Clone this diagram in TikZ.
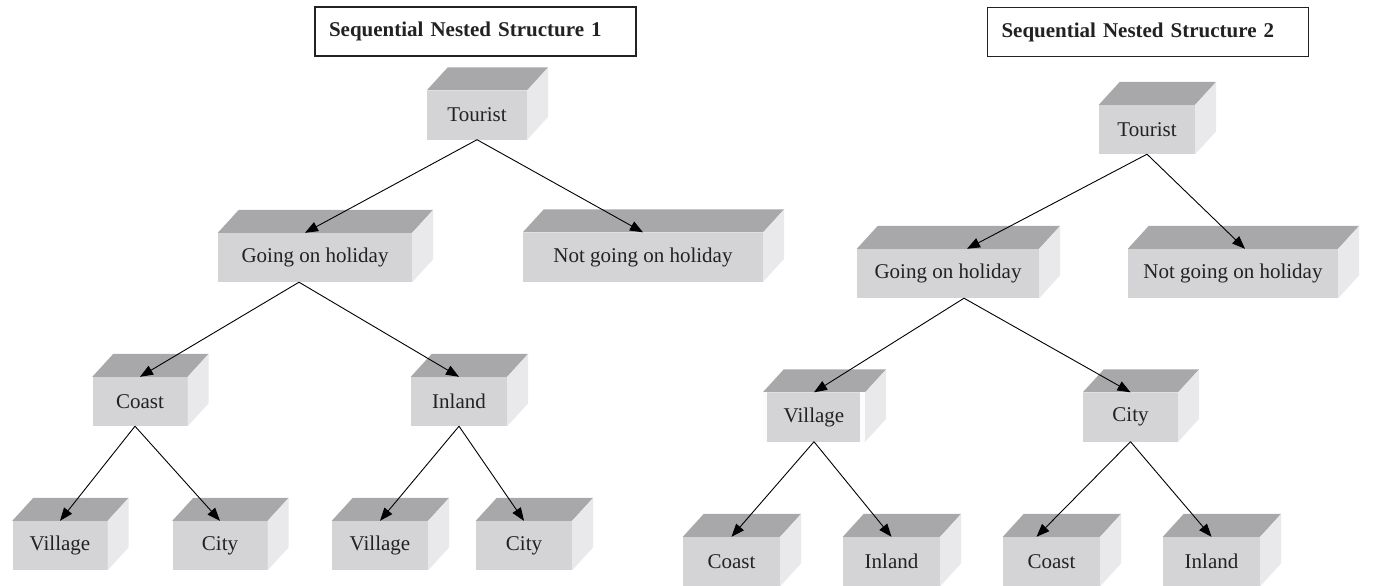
\documentclass[tikz,border=0pt]{standalone}
\usepackage{fontspec}
\setmainfont{Liberation Serif}
\usetikzlibrary{arrows.meta}

\definecolor{frontgray}{RGB}{212,212,214}
\definecolor{topgray}{RGB}{168,168,170}
\definecolor{sidegray}{RGB}{233,233,235}
\definecolor{inkgray}{RGB}{34,34,34}

\tikzset{
  block/.style={rectangle, fill=frontgray, minimum height=49pt, inner sep=0pt,
    text=inkgray, font=\fontsize{21}{25}\selectfont},
  titlebox/.style={rectangle, draw=inkgray, line width=1.2pt, fill=white,
    minimum height=49pt, inner xsep=14pt, inner ysep=0pt, text width=293pt,
    align=left, text=inkgray, font=\fontsize{21}{25}\selectfont\bfseries},
  link/.style={line width=0.9pt, -{Triangle[length=13pt,width=10pt]}}
}

\begin{document}
\begin{tikzpicture}[x=1pt, y=-1pt]
  \useasboundingbox[fill=white] (0,0) rectangle (1397,586);

  % titles
  \node[titlebox] (head1) at (475.5,31.5) {Sequential Nested Structure 1};
  \node[titlebox] (head2) at (1148,32) {Sequential Nested Structure 2};

  % structure 1
  \node[block, minimum width=100pt] (t1) at (477,115) {Tourist};
  \node[block, minimum width=194pt] (g1) at (315,257.5) {Going on holiday};
  \node[block, minimum width=240pt] (n1) at (643,257) {Not going on holiday};
  \node[block, minimum width=95pt] (co1) at (140,401.5) {Coast};
  \node[block, minimum width=96pt] (in1) at (459,401.5) {Inland};
  \node[block, minimum width=95pt] (v1a) at (60,545.5) {Village};
  \node[block, minimum width=95pt] (c1a) at (220,545.5) {City};
  \node[block, minimum width=96pt] (v1b) at (380,545.5) {Village};
  \node[block, minimum width=96pt] (c1b) at (524,545.5) {City};

  % structure 2
  \node[block, minimum width=96pt] (t2) at (1147,129.5) {Tourist};
  \node[block, minimum width=182pt] (g2) at (948,273.5) {Going on holiday};
  \node[block, minimum width=210pt] (n2) at (1233,273.5) {Not going on holiday};
  \node[block, minimum width=102pt] (v2) at (814,417) {Village};
  \node[block, minimum width=95pt] (c2) at (1130.5,417) {City};
  \node[block, minimum width=97pt] (co2a) at (731.5,561.5) {Coast};
  \node[block, minimum width=97pt] (in2a) at (891.5,561.5) {Inland};
  \node[block, minimum width=97pt] (co2b) at (1051.5,561.5) {Coast};
  \node[block, minimum width=97pt] (in2b) at (1211.5,561.5) {Inland};

  % top and side faces
  \foreach \n in {t1,g1,n1,co1,in1,v1a,c1a,v1b,c1b,t2,g2,n2,v2,c2,co2a,in2a,co2b,in2b}{
    \fill[topgray] (\n.north west) -- ++(21,-23) -- ([shift={(21,-23)}]\n.north east)
      -- (\n.north east) -- cycle;
    \fill[sidegray] (\n.north east) -- ++(21,-23) -- ([shift={(21,-23)}]\n.south east)
      -- (\n.south east) -- cycle;
  }
  % light seams on the second village box
  \fill[white!92!frontgray] (v2.north west) rectangle ([xshift=4pt]v2.south west);
  \fill[white!92!frontgray] ([xshift=-5pt]v2.north east) rectangle (v2.south east);

  % connectors, structure 1
  \draw[link] (t1.south) -- ([xshift=-10pt]g1.north);
  \draw[link] (t1.south) -- (n1.north);
  \draw[link] ([xshift=-16pt]g1.south) -- (co1.north);
  \draw[link] ([xshift=-16pt]g1.south) -- (in1.north);
  \draw[link] ([xshift=-5pt]co1.south) -- (v1a.north);
  \draw[link] ([xshift=-5pt]co1.south) -- (c1a.north);
  \draw[link] (in1.south) -- (v1b.north);
  \draw[link] (in1.south) -- (c1b.north);

  % connectors, structure 2
  \draw[link] (t2.south) -- ([xshift=19pt]g2.north);
  \draw[link] (t2.south) -- ([xshift=12pt]n2.north);
  \draw[link] ([xshift=16pt]g2.south) -- (v2.north);
  \draw[link] ([xshift=16pt]g2.south) -- (c2.north);
  \draw[link] (v2.south) -- (co2a.north);
  \draw[link] (v2.south) -- (in2a.north);
  \draw[link] (c2.south) -- ([xshift=-15pt]co2b.north);
  \draw[link] (c2.south) -- (in2b.north);
\end{tikzpicture}
\end{document}
